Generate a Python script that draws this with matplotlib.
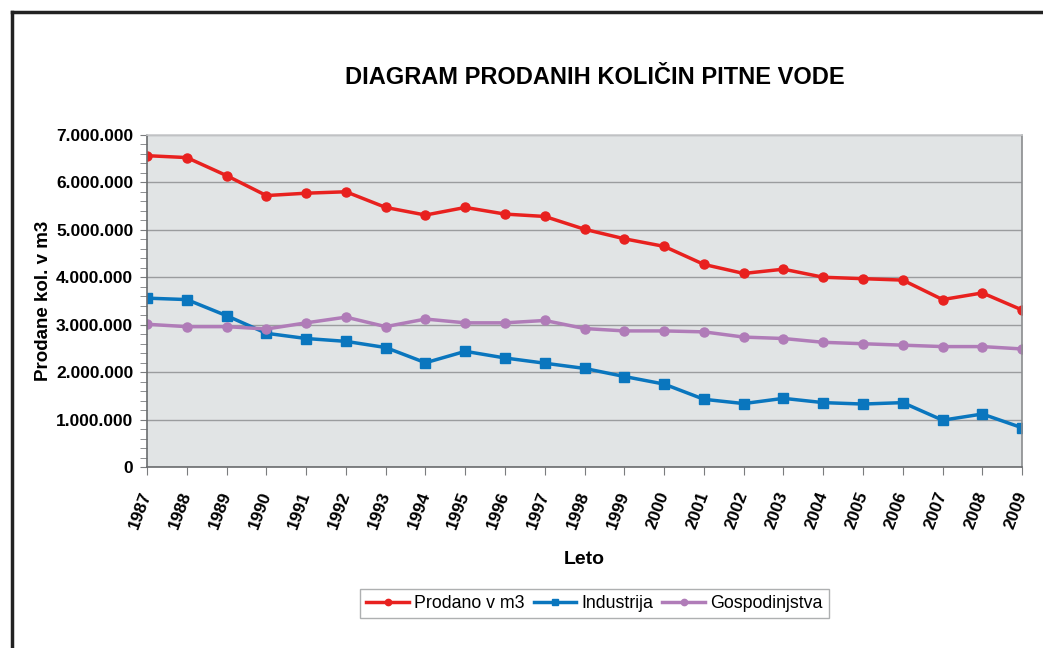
import matplotlib
matplotlib.use('Agg')
import matplotlib.pyplot as plt
from matplotlib.lines import Line2D
from matplotlib.ticker import FuncFormatter, MultipleLocator

plt.rcParams['font.family'] = ['Liberation Sans', 'DejaVu Sans']

# Podatki (odčitani z grafa)
leta = list(range(1987, 2010))
prodano = [6.56, 6.52, 6.14, 5.72, 5.77, 5.80, 5.47, 5.31, 5.47, 5.33, 5.28, 5.01,
           4.81, 4.65, 4.27, 4.08, 4.17, 4.00, 3.97, 3.94, 3.53, 3.67, 3.31]
industrija = [3.56, 3.53, 3.19, 2.82, 2.71, 2.65, 2.52, 2.20, 2.44, 2.30, 2.19, 2.08,
              1.91, 1.75, 1.43, 1.34, 1.45, 1.36, 1.33, 1.36, 0.99, 1.12, 0.83]
gospodinjstva = [3.01, 2.96, 2.96, 2.91, 3.04, 3.16, 2.96, 3.12, 3.04, 3.04, 3.09, 2.92,
                 2.87, 2.87, 2.85, 2.74, 2.71, 2.63, 2.60, 2.57, 2.54, 2.54, 2.49]

prodano = [v * 1e6 for v in prodano]
industrija = [v * 1e6 for v in industrija]
gospodinjstva = [v * 1e6 for v in gospodinjstva]

fig = plt.figure(figsize=(10.43, 6.48), dpi=100)
ax = fig.add_axes([0.141, 0.279, 0.839, 0.513])
ax.set_facecolor('#e1e4e5')

ax.plot(leta, prodano, color='#e8211f', marker='o', markersize=6.5, lw=2.5, label='Prodano v m3')
ax.plot(leta, industrija, color='#0a76be', marker='s', markersize=6.5, lw=2.5, label='Industrija')
ax.plot(leta, gospodinjstva, color='#b07cb8', marker='o', markersize=6.5, lw=2.5, label='Gospodinjstva')

ax.set_xlim(1987, 2009)
ax.set_ylim(0, 7000000)
ax.yaxis.set_major_locator(MultipleLocator(1000000))
ax.yaxis.set_minor_locator(MultipleLocator(200000))
ax.yaxis.set_major_formatter(FuncFormatter(lambda v, p: f"{int(v):,}".replace(',', '.')))
ax.set_xticks(leta)
ax.set_xticklabels([str(l) for l in leta], rotation=70, fontweight='bold', fontsize=12.5,
                   ha='right', va='center', rotation_mode='anchor')
for lab in ax.get_yticklabels():
    lab.set_fontweight('bold')
    lab.set_fontsize(12.5)

ax.grid(axis='y', color='#9a9c9e', lw=1)
ax.set_axisbelow(True)
ax.tick_params(axis='x', length=6, color='#7a7c7e', pad=12)
ax.tick_params(axis='y', which='both', length=5, color='#7a7c7e', pad=5)
ax.spines['left'].set_color('#6a6c6e')
ax.spines['bottom'].set_color('#6a6c6e')
ax.spines['right'].set_color('#8a8c8e')
ax.spines['top'].set_color('#c8cacc')
for s in ax.spines.values():
    s.set_linewidth(1.2)

ax.set_xlabel('Leto', fontweight='bold', fontsize=14, labelpad=14)
ax.set_ylabel('Prodane kol. v m3', fontweight='bold', fontsize=13.5, labelpad=3)
fig.text(0.570, 0.880, 'DIAGRAM PRODANIH KOLIČIN PITNE VODE', ha='center', va='center',
         fontweight='bold', fontsize=17)

leg = fig.legend(loc='center', bbox_to_anchor=(0.570, 0.069), ncol=3, fontsize=12.8,
                 frameon=True, fancybox=False, handlelength=2.4, handletextpad=0.3,
                 columnspacing=0.5, borderpad=0.35, markerscale=0.7)
leg.get_frame().set_edgecolor('#9a9c9e')

# okvir
fig.add_artist(Line2D([12 / 1043, 12 / 1043], [0, 1 - 12 / 648], color='#222222', lw=2.5))
fig.add_artist(Line2D([12 / 1043, 1], [1 - 12 / 648, 1 - 12 / 648], color='#222222', lw=2.5))

fig.savefig('out.png', dpi=100)
plt.close()
